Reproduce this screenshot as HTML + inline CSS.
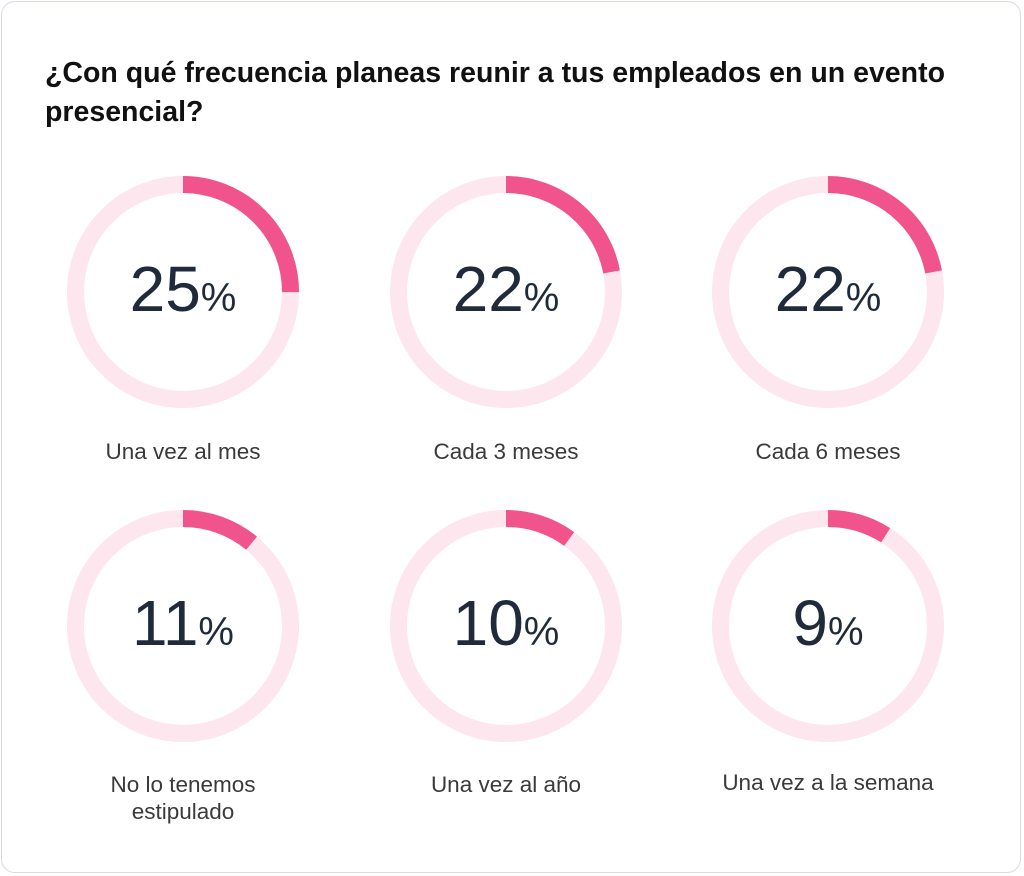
<!DOCTYPE html>
<html><head><meta charset="utf-8"><style>
html,body{margin:0;padding:0;background:#fff;}
body{width:1024px;height:876px;overflow:hidden;font-family:"Liberation Sans",sans-serif;}
.card{position:absolute;left:1px;top:1px;width:1020px;height:872px;border:1px solid #d9d9e3;border-radius:14px;box-sizing:border-box;}
</style></head><body>
<div class="card"></div>
<svg width="1024" height="876" style="position:absolute;left:0;top:0" font-family="Liberation Sans, sans-serif">
<text x="45" y="82" font-size="28.5" font-weight="bold" fill="#111" textLength="900" lengthAdjust="spacingAndGlyphs">¿Con qué frecuencia planeas reunir a tus empleados en un evento</text>
<text x="45" y="121" font-size="28.5" font-weight="bold" fill="#111">presencial?</text>
<g fill="none" stroke-width="17">
<circle cx="183" cy="292" r="107.5" stroke="#fde6ee"/>
<circle cx="506" cy="292" r="107.5" stroke="#fde6ee"/>
<circle cx="828" cy="292" r="107.5" stroke="#fde6ee"/>
<circle cx="183" cy="626" r="107.5" stroke="#fde6ee"/>
<circle cx="506" cy="626" r="107.5" stroke="#fde6ee"/>
<circle cx="828" cy="626" r="107.5" stroke="#fde6ee"/>
<circle cx="183" cy="292" r="107.5" stroke="#f0548a" stroke-dasharray="168.9 700" transform="rotate(-90 183 292)"/>
<circle cx="506" cy="292" r="107.5" stroke="#f0548a" stroke-dasharray="148.6 700" transform="rotate(-90 506 292)"/>
<circle cx="828" cy="292" r="107.5" stroke="#f0548a" stroke-dasharray="148.6 700" transform="rotate(-90 828 292)"/>
<circle cx="183" cy="626" r="107.5" stroke="#f0548a" stroke-dasharray="74.3 700" transform="rotate(-90 183 626)"/>
<circle cx="506" cy="626" r="107.5" stroke="#f0548a" stroke-dasharray="67.5 700" transform="rotate(-90 506 626)"/>
<circle cx="828" cy="626" r="107.5" stroke="#f0548a" stroke-dasharray="60.8 700" transform="rotate(-90 828 626)"/>
</g>
<g fill="#1f2a3a" text-anchor="middle">
<text x="183" y="311"><tspan font-size="64">25</tspan><tspan font-size="40">%</tspan></text>
<text x="506" y="311"><tspan font-size="64">22</tspan><tspan font-size="40">%</tspan></text>
<text x="828" y="311"><tspan font-size="64">22</tspan><tspan font-size="40">%</tspan></text>
<text x="183" y="645"><tspan font-size="64">11</tspan><tspan font-size="40">%</tspan></text>
<text x="506" y="645"><tspan font-size="64">10</tspan><tspan font-size="40">%</tspan></text>
<text x="828" y="645"><tspan font-size="64">9</tspan><tspan font-size="40">%</tspan></text>
</g>
<g fill="#3a3a3a" text-anchor="middle" font-size="22.5">
<text x="183" y="459">Una vez al mes</text>
<text x="506" y="459">Cada 3 meses</text>
<text x="828" y="459">Cada 6 meses</text>
<text x="183" y="792">No lo tenemos</text>
<text x="183" y="819">estipulado</text>
<text x="506" y="792">Una vez al año</text>
<text x="828" y="790">Una vez a la semana</text>
</g>
</svg>
</body></html>
